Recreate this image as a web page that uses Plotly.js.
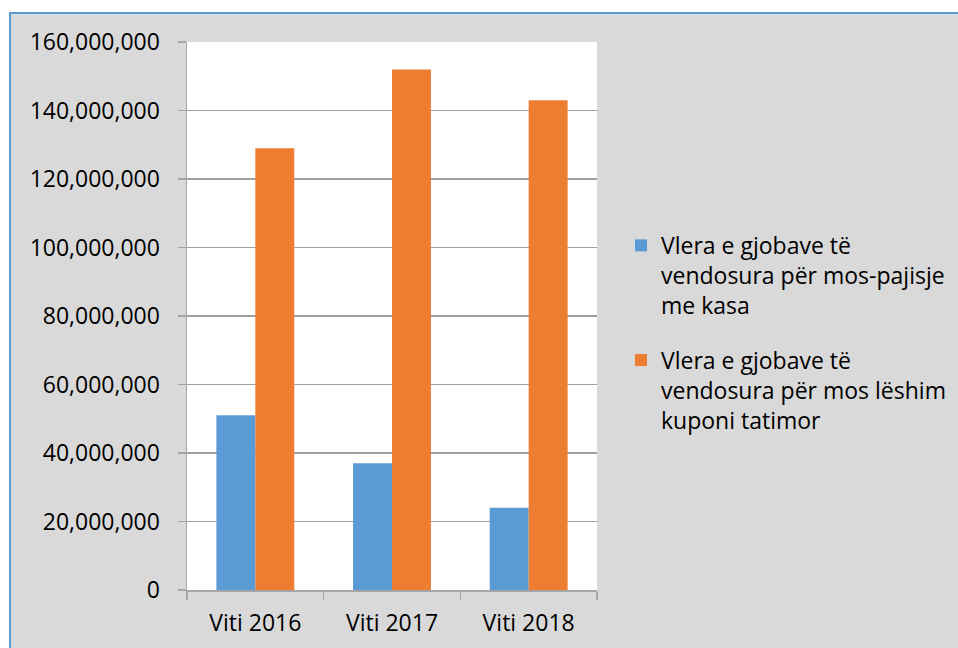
<!DOCTYPE html>
<html>
<head>
<meta charset="utf-8">
<script src="https://cdn.plot.ly/plotly-3.0.1.min.js"></script>
<style>
  html, body { margin: 0; padding: 0; background: #ffffff; width: 958px; height: 648px; overflow: hidden; }
  #frame { position: absolute; left: 9px; top: 12px; width: 949px; height: 636px;
           border-left: 2px solid #5b9bd5; border-top: 2px solid #5b9bd5; box-sizing: border-box; background: #d9d9d9; }
  #chart { width: 947px; height: 634px; }
</style>
</head>
<body>
<div id="frame"><div id="chart"></div></div>
<script>
const categories = ["Viti 2016", "Viti 2017", "Viti 2018"];
const seriesNames = [
  "Vlera e gjobave të<br>vendosura për mos-pajisje<br>me kasa",
  "Vlera e gjobave të<br>vendosura për mos lëshim<br>kuponi tatimor"
];
const valuesKasa = [51000000, 37000000, 24000000];
const valuesKuponi = [129000000, 152000000, 143000000];
const yTickVals = [0, 20000000, 40000000, 60000000, 80000000, 100000000, 120000000, 140000000, 160000000];
const yTickText = ["0", "20,000,000", "40,000,000", "60,000,000", "80,000,000", "100,000,000", "120,000,000", "140,000,000", "160,000,000"];

const FONT = "Open Sans, Noto Sans, sans-serif";

const traces = [
  { type: "bar", name: seriesNames[0], x: categories, y: valuesKasa,
    marker: { color: "#5b9bd5", line: { width: 0 } }, legendgroup: "a", hoverinfo: "none" },
  { type: "bar", name: seriesNames[1], x: categories, y: valuesKuponi,
    marker: { color: "#ed7d31", line: { width: 0 } }, legendgroup: "b", hoverinfo: "none" }
];

const layout = {
  width: 947, height: 634,
  paper_bgcolor: "#d9d9d9",
  plot_bgcolor: "#ffffff",
  margin: { l: 176, r: 361, t: 28, b: 58, autoexpand: false },
  font: { family: FONT, size: 23, color: "#000000" },
  barmode: "group",
  bargap: 0.43,
  bargroupgap: 0,
  showlegend: true,
  legend: {
    x: 1.0585, xanchor: "left", y: 0.668, yanchor: "top",
    bgcolor: "rgba(0,0,0,0)", borderwidth: 0,
    font: { family: FONT, size: 23, color: "#000000" },
    valign: "top", tracegroupgap: 22, itemwidth: 30
  },
  xaxis: {
    type: "category",
    showline: true, linecolor: "#a6a6a6", linewidth: 1.5,
    ticks: "outside", ticklen: 8, tickcolor: "#a6a6a6", tickwidth: 1.5,
    tickson: "boundaries",
    showgrid: false, zeroline: false,
    ticklabelstandoff: 12,
    tickfont: { family: FONT, size: 23, color: "#000000" }
  },
  yaxis: {
    range: [0, 160000000],
    tickvals: yTickVals, ticktext: yTickText,
    showline: true, linecolor: "#a6a6a6", linewidth: 1.5,
    ticks: "outside", ticklen: 8, tickcolor: "#a6a6a6", tickwidth: 1.5,
    showgrid: true, gridcolor: "#a0a0a0", gridwidth: 1.2,
    zeroline: false,
    ticklabelstandoff: 13,
    tickfont: { family: FONT, size: 23, color: "#000000" }
  }
};

Plotly.newPlot("chart", traces, layout, { staticPlot: true, displayModeBar: false });
</script>
</body>
</html>
